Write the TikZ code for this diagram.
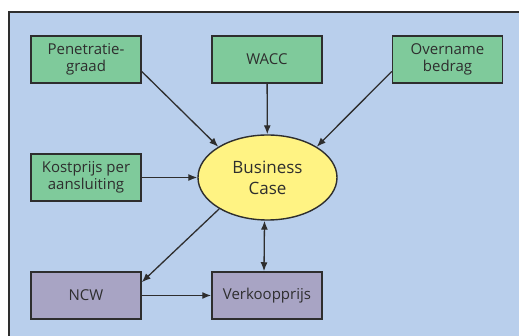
\documentclass[tikz,border=0pt]{standalone}
\usepackage{fontspec}
\setmainfont{Open Sans}
\usepackage{xcolor}
\usetikzlibrary{shapes.geometric,arrows.meta,positioning,calc}

\definecolor{panelblue}{HTML}{B9CFEC}
\definecolor{boxgreen}{HTML}{7FCA9B}
\definecolor{boxlilac}{HTML}{A8A4C4}
\definecolor{ellyellow}{HTML}{FFF383}
\definecolor{inkgray}{HTML}{2E2E2E}

\begin{document}
\begin{tikzpicture}[x=1pt, y=-1pt,
  inp/.style={draw=inkgray, line width=1.5pt, minimum width=110pt, minimum height=47pt,
              inner sep=2pt, align=center, font=\fontsize{15}{17}\selectfont,
              text=inkgray, fill=boxgreen},
  outp/.style={inp, fill=boxlilac},
  hub/.style={ellipse, draw=inkgray, line width=1.4pt, minimum width=139pt,
              minimum height=85pt, inner sep=0pt, align=center,
              font=\fontsize{17}{21}\selectfont, text=inkgray, fill=ellyellow},
  ar/.style={-{Latex[length=9pt, width=7pt]}, line width=1.3pt, draw=inkgray}
]
  \useasboundingbox (0,0) rectangle (519,336);
  \fill[white] (0,0) rectangle (519,336);
  \filldraw[fill=panelblue, draw=inkgray, line width=1.4pt] (9,12) rectangle (525,342);

  \node[hub] (bc) at (267.5,177.5) {Business\\Case};
  \node[inp] (pen) at (86,59.5) {Penetratie-\\graad};
  \node[inp] (wacc) at (267,59.5) {WACC};
  \node[inp] (ovn) at (447.5,59.5) {Overname\\bedrag};
  \node[inp] (kp) at (86,177.5) {Kostprijs per\\aansluiting};
  \node[outp] (ncw) at (86,295.5) {NCW};
  \node[outp] (vkp) at (267,295.5) {Verkoopprijs};

  \draw[ar] ([yshift=-12pt]pen.east) -- (bc.148);
  \draw[ar] (wacc) -- (bc);
  \draw[ar] ([yshift=-12pt]ovn.west) -- (bc.32);
  \draw[ar] (kp) -- (bc);
  \draw[ar] (bc.213) -- ([yshift=-11pt]ncw.north east);
  \draw[ar] (ncw) -- (vkp);
  \draw[ar, {Latex[length=9pt, width=7pt]}-{Latex[length=9pt, width=7pt]}]
    ([xshift=-3pt]bc.south) -- ([xshift=-3pt]vkp.north);
\end{tikzpicture}
\end{document}
